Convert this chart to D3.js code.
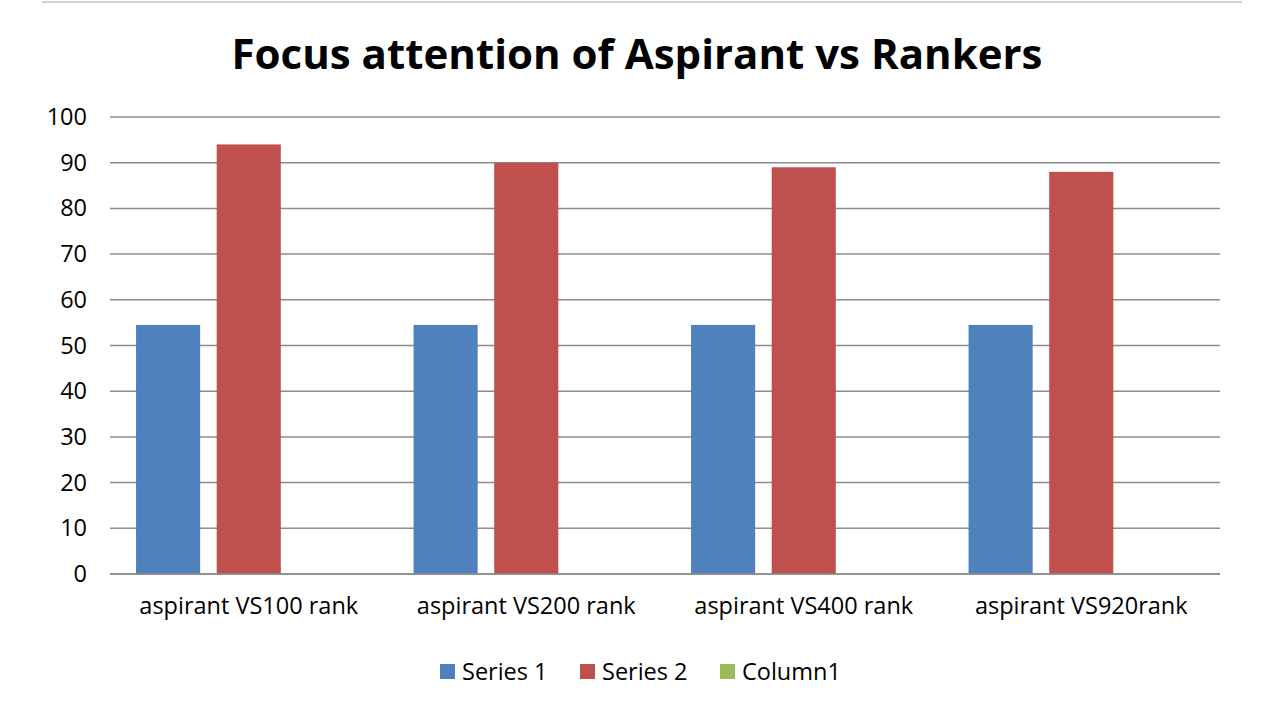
<!DOCTYPE html>
<html><head><meta charset="utf-8">
<script src="https://cdn.jsdelivr.net/npm/d3@7/dist/d3.min.js"></script>
<style>body{margin:0;background:#fff;}svg{display:block;}</style>
</head><body>
<script>
const categories = ["aspirant VS100 rank", "aspirant VS200 rank", "aspirant VS400 rank", "aspirant VS920rank"];
const seriesNames = ["Series 1", "Series 2", "Column1"];
const series1 = [54.5, 54.5, 54.5, 54.5];
const series2 = [94, 90, 89, 88];
const column1 = [0, 0, 0, 0];
const yTicks = [0, 10, 20, 30, 40, 50, 60, 70, 80, 90, 100];
const colors = ["#4F81BD", "#C0504D", "#9BBB59"];
const title = "Focus attention of Aspirant vs Rankers";

const W = 1274, H = 712;
const svg = d3.select("body").append("svg").attr("width", W).attr("height", H);
const font = "'Open Sans', 'Liberation Sans', sans-serif";

// top border line
svg.append("line").attr("x1", 42).attr("x2", 1242).attr("y1", 2).attr("y2", 2)
  .attr("stroke", "#d0d0d0").attr("stroke-width", 2);

svg.append("text").attr("x", 637).attr("y", 69).attr("text-anchor", "middle")
  .attr("font-family", font).attr("font-weight", "bold").attr("font-size", 41)
  .attr("textLength", 811).attr("lengthAdjust", "spacingAndGlyphs")
  .attr("fill", "#000").text(title);

const x0 = d3.scaleBand().domain(categories).range([110, 1220]).padding(0);
const x1 = d3.scaleBand().domain(seriesNames).range([0, x0.bandwidth()]).paddingInner(0.205).paddingOuter(0.323);
const y = d3.scaleLinear().domain([0, 100]).range([574, 117]);

// gridlines
svg.append("g").selectAll("line").data(yTicks).join("line")
  .attr("x1", 110).attr("x2", 1220).attr("y1", d => y(d)).attr("y2", d => y(d))
  .attr("stroke", "#8c8c8c").attr("stroke-width", 1.5);

// y axis labels
const yAxis = d3.axisLeft(y).tickValues(yTicks).tickSize(0).tickPadding(0);
const ya = svg.append("g").attr("transform", "translate(87,0)").call(yAxis);
ya.select(".domain").remove();
ya.selectAll("text").attr("font-family", font).attr("font-size", 23.5).attr("fill", "#000");

// bars
const data = categories.map((c, i) => ({cat: c, vals: [series1[i], series2[i], column1[i]]}));
const groups = svg.append("g").selectAll("g").data(data).join("g")
  .attr("transform", d => `translate(${x0(d.cat)},0)`);
groups.selectAll("rect").data(d => d.vals.map((v, j) => ({name: seriesNames[j], v, j})))
  .join("rect")
  .attr("x", d => x1(d.name)).attr("width", x1.bandwidth())
  .attr("y", d => y(d.v)).attr("height", d => y(0) - y(d.v))
  .attr("fill", d => colors[d.j]);

// baseline axis
svg.append("line").attr("x1", 110).attr("x2", 1220).attr("y1", y(0)).attr("y2", y(0))
  .attr("stroke", "#8c8c8c").attr("stroke-width", 1.5);

// x axis labels
const xAxis = d3.axisBottom(x0).tickSize(0).tickPadding(0);
const xa = svg.append("g").attr("transform", "translate(0,597)").call(xAxis);
xa.select(".domain").remove();
xa.selectAll("text").attr("font-family", font).attr("font-size", 23.5).attr("fill", "#000");

// legend
const legendX = [440, 580, 720];
const lg = svg.append("g").selectAll("g").data(seriesNames).join("g")
  .attr("transform", (d, i) => `translate(${legendX[i]},664)`);
lg.append("rect").attr("width", 15).attr("height", 15).attr("fill", (d, i) => colors[i]);
lg.append("text").attr("x", 22).attr("y", 16).attr("font-family", font).attr("font-size", 23.5)
  .attr("fill", "#000").text(d => d);
</script>
</body></html>
